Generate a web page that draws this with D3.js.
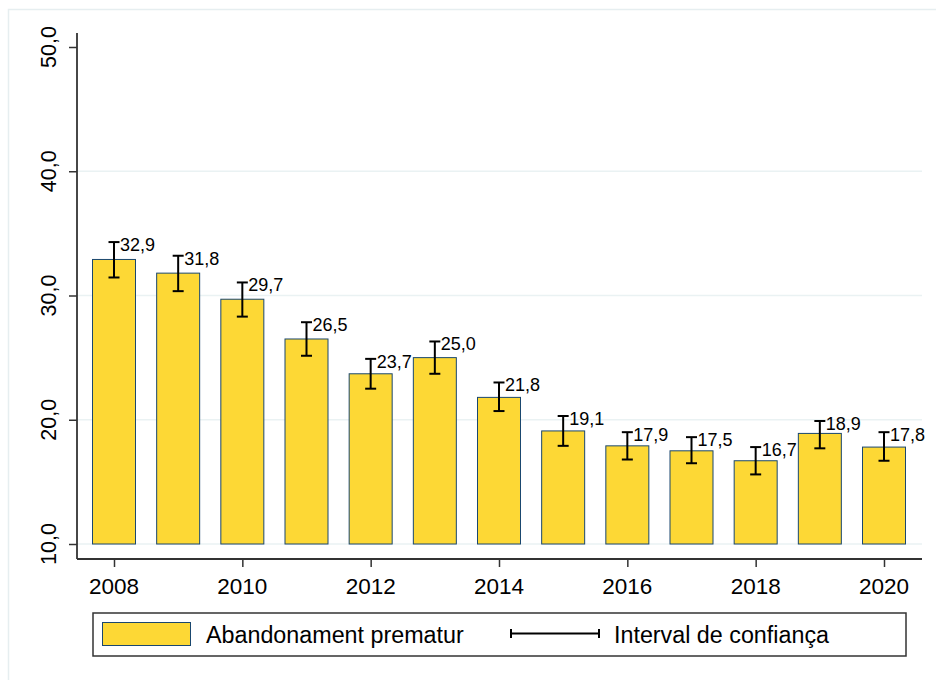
<!DOCTYPE html>
<html>
<head>
<meta charset="utf-8">
<script src="https://cdn.jsdelivr.net/npm/d3@7/dist/d3.min.js"></script>
<style>
  html, body { margin: 0; padding: 0; background: #fff; }
  svg { display: block; }
  text { font-family: "Liberation Sans", Arial, sans-serif; fill: #000; }
</style>
</head>
<body>
<svg id="chart" width="936" height="680"></svg>
<script>
const years = [2008, 2009, 2010, 2011, 2012, 2013, 2014, 2015, 2016, 2017, 2018, 2019, 2020];
const values = [32.9, 31.8, 29.7, 26.5, 23.7, 25.0, 21.8, 19.1, 17.9, 17.5, 16.7, 18.9, 17.8];
const ciLow = [31.45, 30.35, 28.3, 25.15, 22.5, 23.7, 20.7, 17.9, 16.8, 16.5, 15.6, 17.7, 16.7];
const ciHigh = [34.3, 33.2, 31.05, 27.85, 24.9, 26.3, 23.0, 20.3, 19.0, 18.6, 17.8, 19.9, 19.0];
const yTicks = [10, 20, 30, 40, 50];
const gridValues = [10, 20, 30, 40];
const xTicks = [2008, 2010, 2012, 2014, 2016, 2018, 2020];
const legendLabels = ["Abandonament prematur", "Interval de confiança"];

const svg = d3.select("#chart");
const fmt = v => d3.format(".1f")(v).replace(".", ",");

// outer frame
svg.append("rect").attr("x", 8.5).attr("y", 9.5).attr("width", 940).attr("height", 700)
  .attr("fill", "#fff").attr("stroke", "#e6eef0").attr("stroke-width", 1.5);

const x = d3.scaleLinear().domain([2008, 2020]).range([114, 884]);
const y = d3.scaleLinear().domain([10, 50]).range([544, 47]);
const axisX0 = 77, axisY0 = 559, plotRight = 922, axisTop = 33;
const barW = 43;

// gridlines
svg.append("g").selectAll("line").data(gridValues).join("line")
  .attr("x1", axisX0).attr("x2", plotRight)
  .attr("y1", d => y(d)).attr("y2", d => y(d))
  .attr("stroke", "#eaf2f3").attr("stroke-width", 1.5);

// bars
svg.append("g").selectAll("rect").data(values).join("rect")
  .attr("x", (d, i) => x(years[i]) - barW / 2)
  .attr("y", d => y(d))
  .attr("width", barW)
  .attr("height", d => y(10) - y(d))
  .attr("fill", "#fdd835")
  .attr("stroke", "#1a476f").attr("stroke-width", 1);

// error bars
const eb = svg.append("g").attr("stroke", "#000").attr("stroke-width", 2).attr("fill", "none");
years.forEach((yr, i) => {
  const cx = x(yr);
  eb.append("line").attr("x1", cx).attr("x2", cx).attr("y1", y(ciLow[i])).attr("y2", y(ciHigh[i]));
  eb.append("line").attr("x1", cx - 5.5).attr("x2", cx + 5.5).attr("y1", y(ciLow[i])).attr("y2", y(ciLow[i]));
  eb.append("line").attr("x1", cx - 5.5).attr("x2", cx + 5.5).attr("y1", y(ciHigh[i])).attr("y2", y(ciHigh[i]));
});

// value labels
svg.append("g").selectAll("text").data(values).join("text")
  .attr("x", (d, i) => x(years[i]) + 6)
  .attr("y", (d, i) => y(ciHigh[i]) + 9)
  .attr("font-size", 18)
  .text(d => fmt(d));

// y axis
const yAxis = svg.append("g").attr("transform", `translate(${axisX0},0)`)
  .call(d3.axisLeft(y).tickValues(yTicks).tickSize(8).tickFormat(""));
yAxis.select(".domain").remove();
yAxis.selectAll(".tick line").attr("stroke", "#333").attr("stroke-width", 1.5);
svg.append("line").attr("x1", axisX0).attr("x2", axisX0).attr("y1", axisTop).attr("y2", axisY0)
  .attr("stroke", "#333").attr("stroke-width", 1.8);
svg.append("g").selectAll("text").data(yTicks).join("text")
  .attr("transform", d => `translate(56,${y(d)}) rotate(-90)`)
  .attr("text-anchor", "middle")
  .attr("font-size", 21.5)
  .text(d => fmt(d));

// x axis
const xAxis = svg.append("g").attr("transform", `translate(0,${axisY0})`)
  .call(d3.axisBottom(x).tickValues(xTicks).tickSize(8).tickFormat(""));
xAxis.select(".domain").remove();
xAxis.selectAll(".tick line").attr("stroke", "#333").attr("stroke-width", 1.5);
svg.append("line").attr("x1", axisX0).attr("x2", plotRight).attr("y1", axisY0).attr("y2", axisY0)
  .attr("stroke", "#333").attr("stroke-width", 1.8);
svg.append("g").selectAll("text").data(xTicks).join("text")
  .attr("x", d => x(d)).attr("y", 594)
  .attr("text-anchor", "middle")
  .attr("font-size", 22.5)
  .text(d => d);

// legend
const lg = svg.append("g");
lg.append("rect").attr("x", 93).attr("y", 613).attr("width", 813).attr("height", 43)
  .attr("fill", "#fff").attr("stroke", "#333").attr("stroke-width", 1.5);
lg.append("rect").attr("x", 102.5).attr("y", 622.5).attr("width", 88).attr("height", 23)
  .attr("fill", "#fdd835").attr("stroke", "#1a476f").attr("stroke-width", 1);
lg.append("text").attr("x", 206).attr("y", 643).attr("font-size", 23.3).text(legendLabels[0]);
const ly = 633.5;
lg.append("line").attr("x1", 511).attr("x2", 599).attr("y1", ly).attr("y2", ly).attr("stroke", "#000").attr("stroke-width", 2);
lg.append("line").attr("x1", 511).attr("x2", 511).attr("y1", ly - 4.5).attr("y2", ly + 4.5).attr("stroke", "#000").attr("stroke-width", 2);
lg.append("line").attr("x1", 599).attr("x2", 599).attr("y1", ly - 4.5).attr("y2", ly + 4.5).attr("stroke", "#000").attr("stroke-width", 2);
lg.append("text").attr("x", 614).attr("y", 643).attr("font-size", 23.3).text(legendLabels[1]);
</script>
</body>
</html>
